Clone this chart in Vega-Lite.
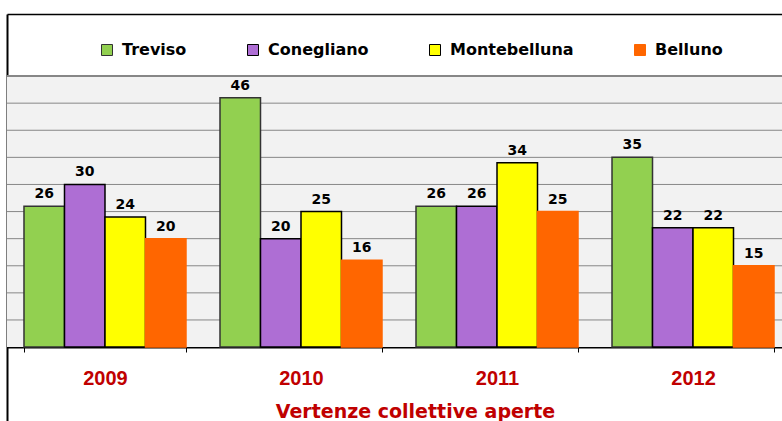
{
  "$schema": "https://vega.github.io/schema/vega-lite/v6.json",
  "width": 775,
  "height": 407,
  "autosize": {"type": "none"},
  "padding": {"left": 7, "top": 14, "right": 0, "bottom": 0},
  "background": "#ffffff",
  "config": {
    "view": {"fill": "#ffffff", "stroke": null},
    "legend": {
      "orient": "none",
      "legendX": 92,
      "legendY": 28,
      "direction": "horizontal",
      "padding": 0,
      "symbolType": "square",
      "symbolSize": 121,
      "symbolStrokeWidth": 1,
      "labelFont": "DejaVu Sans",
      "labelFontSize": 16,
      "labelFontWeight": "bold",
      "labelColor": "#000000",
      "labelOffset": 7,
      "columnPadding": 58
    }
  },
  "datasets": {
    "bars": [
      {"year": "2009", "series": "Treviso", "value": 26},
      {"year": "2009", "series": "Conegliano", "value": 30},
      {"year": "2009", "series": "Montebelluna", "value": 24},
      {"year": "2009", "series": "Belluno", "value": 20},
      {"year": "2010", "series": "Treviso", "value": 46},
      {"year": "2010", "series": "Conegliano", "value": 20},
      {"year": "2010", "series": "Montebelluna", "value": 25},
      {"year": "2010", "series": "Belluno", "value": 16},
      {"year": "2011", "series": "Treviso", "value": 26},
      {"year": "2011", "series": "Conegliano", "value": 26},
      {"year": "2011", "series": "Montebelluna", "value": 34},
      {"year": "2011", "series": "Belluno", "value": 25},
      {"year": "2012", "series": "Treviso", "value": 35},
      {"year": "2012", "series": "Conegliano", "value": 22},
      {"year": "2012", "series": "Montebelluna", "value": 22},
      {"year": "2012", "series": "Belluno", "value": 15}
    ],
    "grid": [
      {"v": 5}, {"v": 10}, {"v": 15}, {"v": 20}, {"v": 25},
      {"v": 30}, {"v": 35}, {"v": 40}, {"v": 45}, {"v": 50}
    ]
  },
  "layer": [
    {
      "data": {"values": [{}]},
      "mark": {"type": "rect", "fill": "#F2F2F2"},
      "encoding": {
        "y": {"datum": 0, "type": "quantitative", "title": null},
        "y2": {"datum": 50}
      }
    },
    {
      "data": {"name": "grid"},
      "mark": {"type": "rule", "color": "#878787"},
      "encoding": {
        "y": {"field": "v", "type": "quantitative", "title": null},
        "strokeWidth": {
          "condition": {"test": "datum.v == 50", "value": 2},
          "value": 1
        }
      }
    },
    {
      "data": {"name": "bars"},
      "mark": {"type": "bar", "strokeWidth": 1.5},
      "encoding": {
        "x": {
          "field": "year",
          "type": "nominal",
          "scale": {"paddingInner": 0.1735, "paddingOuter": 0.0867, "range": [0, 784]},
          "axis": {
            "orient": "bottom",
            "offset": -74,
            "title": "Vertenze collettive aperte",
            "labelAngle": 0,
            "domainColor": "#000000",
            "domainWidth": 2,
            "tickColor": "#000000",
            "tickSize": 5,
            "tickWidth": 1,
            "tickBand": "extent",
            "grid": false,
            "labelFont": "Liberation Sans",
            "labelFontSize": 20,
            "labelFontWeight": "bold",
            "labelColor": "#C00000",
            "labelBaseline": "alphabetic",
            "labelPadding": 32,
            "titleFont": "DejaVu Sans",
            "titleFontSize": 19,
            "titleFontWeight": "bold",
            "titleColor": "#C00000",
            "titleX": 408,
            "titleY": 70,
            "titleBaseline": "alphabetic",
            "titleAlign": "center"
          }
        },
        "xOffset": {
          "field": "series",
          "type": "nominal",
          "sort": ["Treviso", "Conegliano", "Montebelluna", "Belluno"],
          "scale": {"paddingInner": 0, "paddingOuter": 0}
        },
        "y": {
          "field": "value",
          "type": "quantitative",
          "title": null,
          "scale": {"domain": [-13.64, 61.45], "nice": false, "zero": false},
          "axis": {
            "labels": false,
            "ticks": false,
            "domain": true,
            "domainColor": "#000000",
            "domainWidth": 2,
            "grid": true,
            "values": [61.45],
            "gridColor": "#000000",
            "gridWidth": 1.5
          }
        },
        "fill": {
          "field": "series",
          "type": "nominal",
          "sort": ["Treviso", "Conegliano", "Montebelluna", "Belluno"],
          "scale": {
            "domain": ["Treviso", "Conegliano", "Montebelluna", "Belluno"],
            "range": ["#92D050", "#AE6ED4", "#FFFF00", "#FF6600"]
          },
          "legend": {"title": null}
        },
        "stroke": {
          "field": "series",
          "type": "nominal",
          "sort": ["Treviso", "Conegliano", "Montebelluna", "Belluno"],
          "scale": {
            "domain": ["Treviso", "Conegliano", "Montebelluna", "Belluno"],
            "range": ["#333333", "#000000", "#000000", "#FF6600"]
          },
          "legend": {"title": null}
        }
      }
    },
    {
      "data": {"name": "bars"},
      "mark": {
        "type": "text",
        "dy": -8,
        "baseline": "alphabetic",
        "font": "DejaVu Sans",
        "fontWeight": "bold",
        "fontSize": 14,
        "color": "#000000"
      },
      "encoding": {
        "x": {"field": "year", "type": "nominal"},
        "xOffset": {
          "field": "series",
          "type": "nominal",
          "sort": ["Treviso", "Conegliano", "Montebelluna", "Belluno"]
        },
        "y": {"field": "value", "type": "quantitative"},
        "text": {"field": "value", "type": "quantitative"}
      }
    }
  ]
}
